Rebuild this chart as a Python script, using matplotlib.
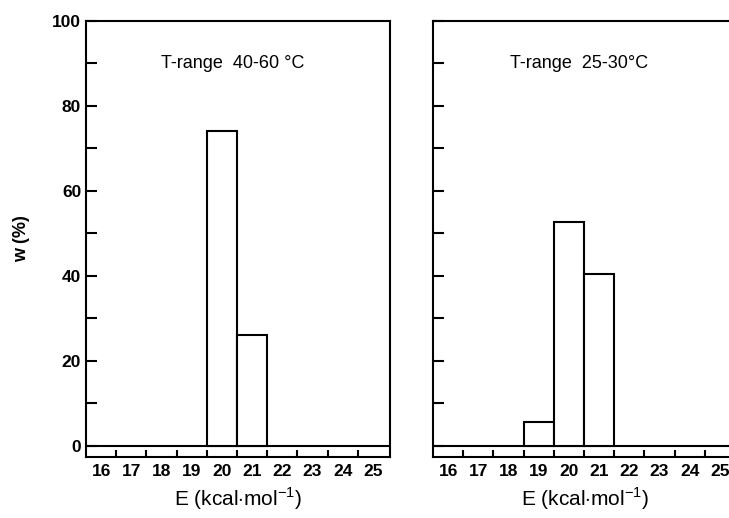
import numpy as np
import matplotlib.pyplot as plt

plt.rcParams['font.family'] = ['Liberation Sans', 'DejaVu Sans']
plt.rcParams['mathtext.fontset'] = 'custom'
plt.rcParams['mathtext.rm'] = 'Liberation Sans'

# данные: энергия активации (центры интервалов) и доля w (%)
energy = [16, 17, 18, 19, 20, 21, 22, 23, 24, 25]
w_40_60 = [0, 0, 0, 0, 74, 26, 0, 0, 0, 0]
w_25_30 = [0, 0, 0, 5.6, 52.7, 40.5, 0, 0, 0, 0]
titles = ['T-range  40-60 °C', 'T-range  25-30°C']

fig = plt.figure(figsize=(7.29, 5.18), dpi=100)
ax1 = fig.add_axes([86 / 729, 61 / 518, 304 / 729, 436 / 518])
ax2 = fig.add_axes([433 / 729, 61 / 518, 304 / 729, 436 / 518])

for i, (ax, w, title) in enumerate([(ax1, w_40_60, titles[0]), (ax2, w_25_30, titles[1])]):
    heights = np.array(w)
    mask = heights > 0
    ax.bar(np.array(energy)[mask], heights[mask], width=1.0, color='white',
           edgecolor='black', linewidth=1.5, zorder=3)
    ax.axhline(0, color='black', linewidth=1.5, zorder=2)
    ax.set_xlim(15.5, 25.57)
    ax.set_ylim(-2.6, 100)

    # метки по оси x: подписи по центрам, засечки на границах интервалов
    ax.set_xticks(np.arange(16.5, 25.5, 1.0))
    ax.set_xticks(energy, minor=True)
    ax.set_xticklabels(energy, minor=True, fontsize=12.5, fontweight='bold')
    ax.set_xticklabels([])
    ax.tick_params(axis='x', which='major', direction='in', length=5, width=1.5)
    ax.tick_params(axis='x', which='minor', length=0, pad=5)

    ax.set_yticks(np.arange(0, 101, 20))
    ax.set_yticks(np.arange(10, 100, 20), minor=True)
    ax.tick_params(axis='y', which='both', direction='in', length=8, width=1.5)
    if i == 0:
        ax.set_yticklabels([0, 20, 40, 60, 80, 100], fontsize=12.5, fontweight='bold')
        ax.set_ylabel('w (%)', fontsize=13, fontweight='bold', labelpad=16)
    else:
        ax.set_yticklabels([])
        ax.spines['right'].set_visible(False)

    for s in ax.spines.values():
        s.set_linewidth(1.5)

    ax.set_xlabel(r'E (kcal$\cdot$mol$^{-1}$)', fontsize=15, labelpad=5)
    ax.text(20.35, 90, title, ha='center', va='center', fontsize=13)

plt.savefig('out.png', dpi=100)
